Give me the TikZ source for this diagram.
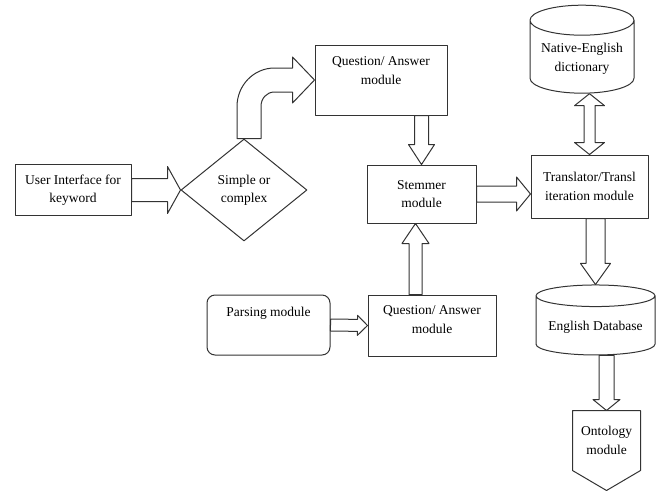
\documentclass[tikz,border=0pt]{standalone}
\usepackage{fontspec}
\setmainfont{Liberation Serif}
\usetikzlibrary{shapes.geometric,calc}
\begin{document}
\begin{tikzpicture}[x=1pt, y=-1pt, font=\fontsize{13.5}{18.5}\selectfont, line join=round, line cap=round,
		box/.style={draw=black!80, line width=1pt, align=center, inner sep=2pt},
		db/.style={box, cylinder, shape border rotate=90, aspect=#1},
		hollow/.style={draw=black!80, line width=1pt, fill=white},
		blockarrow/.style n args={3}{to path={
			-- ($(\tikztostart)!#1!90:(\tikztotarget)$)
			-- ($($(\tikztotarget)!#3!(\tikztostart)$)!#1!90:(\tikztotarget)$)
			-- ($($(\tikztotarget)!#3!(\tikztostart)$)!#2!90:(\tikztotarget)$)
			-- (\tikztotarget)
			-- ($($(\tikztotarget)!#3!(\tikztostart)$)!#2!-90:(\tikztotarget)$)
			-- ($($(\tikztotarget)!#3!(\tikztostart)$)!#1!-90:(\tikztotarget)$)
			-- ($(\tikztostart)!#1!-90:(\tikztotarget)$) -- cycle}},
		dblarrow/.style n args={3}{to path={
			-- ($($(\tikztostart)!#3!(\tikztotarget)$)!#2!90:(\tikztotarget)$)
			-- ($($(\tikztostart)!#3!(\tikztotarget)$)!#1!90:(\tikztotarget)$)
			-- ($($(\tikztotarget)!#3!(\tikztostart)$)!#1!90:(\tikztotarget)$)
			-- ($($(\tikztotarget)!#3!(\tikztostart)$)!#2!90:(\tikztotarget)$)
			-- (\tikztotarget)
			-- ($($(\tikztotarget)!#3!(\tikztostart)$)!#2!-90:(\tikztotarget)$)
			-- ($($(\tikztotarget)!#3!(\tikztostart)$)!#1!-90:(\tikztotarget)$)
			-- ($($(\tikztostart)!#3!(\tikztotarget)$)!#1!-90:(\tikztotarget)$)
			-- ($($(\tikztostart)!#3!(\tikztotarget)$)!#2!-90:(\tikztotarget)$)
			-- cycle}}]
	\useasboundingbox (0,0) rectangle (659,491);
	% boxes
	\node[box, minimum width=116, minimum height=51] (ui) at (73,190) {User Interface for\\keyword};
	\node[box, diamond, inner sep=0pt, minimum width=126, minimum height=102] (choice) at (244,190) {Simple or\\complex};
	\node[box, minimum width=132, minimum height=70, label={[name=qa1txt, align=center, below=9pt]north:{Question/ Answer\\module}}] (qa1) at (381,80) {};
	\node[box, minimum width=109, minimum height=58] (stem) at (421.5,194) {Stemmer\\module};
	\node[box, minimum width=117, minimum height=63] (trans) at (589.5,186.5) {Translator/Transl\\iteration module};
	\node[db=0.35, minimum width=104, minimum height=88] (dict) at (582,59) {Native-English\\dictionary};
	\node[box, rounded corners=8pt, minimum width=123, minimum height=60, label={[name=parsetxt, below=9pt]north:{Parsing module}}] (parse) at (268.5,325) {};
	\node[box, minimum width=128, minimum height=61, label={[name=qa2txt, align=center, below=8pt]north:{Question/ Answer\\module}}] (qa2) at (432,325.5) {};
	\node[db=0.22, minimum width=119, minimum height=70] (ed) at (595.5,327) {English Database};
	\node[box, draw=none, minimum width=67, minimum height=59] (onto) at (606.5,440.5) {Ontology\\module};
	\draw[hollow, fill=none] (onto.north west) -- (onto.south west) -- ($(onto.south)+(0,20)$) -- (onto.south east) -- (onto.north east) -- cycle;
	\coordinate (stemin) at ($(stem.south)+(-6,0)$);
	% hollow arrows
	\draw[hollow] (ui.east) to[blockarrow={11.5pt}{23.5pt}{13pt}] (choice.west);
	\draw[hollow] ($(choice.north)+(-7,0)$) coordinate (c1) -- ++(0,-32)
		.. controls +(0,-21) and +(-21,0) .. ($(qa1.west)+(-40,-12)$) -- ++(18,0) -- ++(0,-11)
		-- (qa1.west) -- ++(-22,23) -- ++(0,-11) -- ++(-18,0)
		.. controls +(-8,0) and +(0,-8) .. ($(c1)+(24,-32)$) -- ($(c1)+(24,0)$) -- cycle;
	\draw[hollow] (stem.north |- qa1.south) to[blockarrow={7pt}{13pt}{20pt}] (stem.north);
	\draw[hollow] (stem.east) to[blockarrow={8pt}{17pt}{14pt}] (stem.east -| trans.west);
	\draw[hollow] (parse.east) to[blockarrow={6pt}{10pt}{10pt}] (qa2.west);
	\draw[hollow] (stemin |- qa2.north) to[blockarrow={6.5pt}{13.5pt}{20pt}] (stemin);
	\draw[hollow] (dict.south -| trans.north) to[dblarrow={5.5pt}{15pt}{12pt}] (trans.north);
	\draw[hollow] (trans.south -| ed.north) to[blockarrow={9.5pt}{15pt}{21pt}] (ed.north);
	\draw[hollow] (ed.south -| onto.north) to[blockarrow={7.5pt}{13.5pt}{11pt}] (onto.north);
\end{tikzpicture}
\end{document}
